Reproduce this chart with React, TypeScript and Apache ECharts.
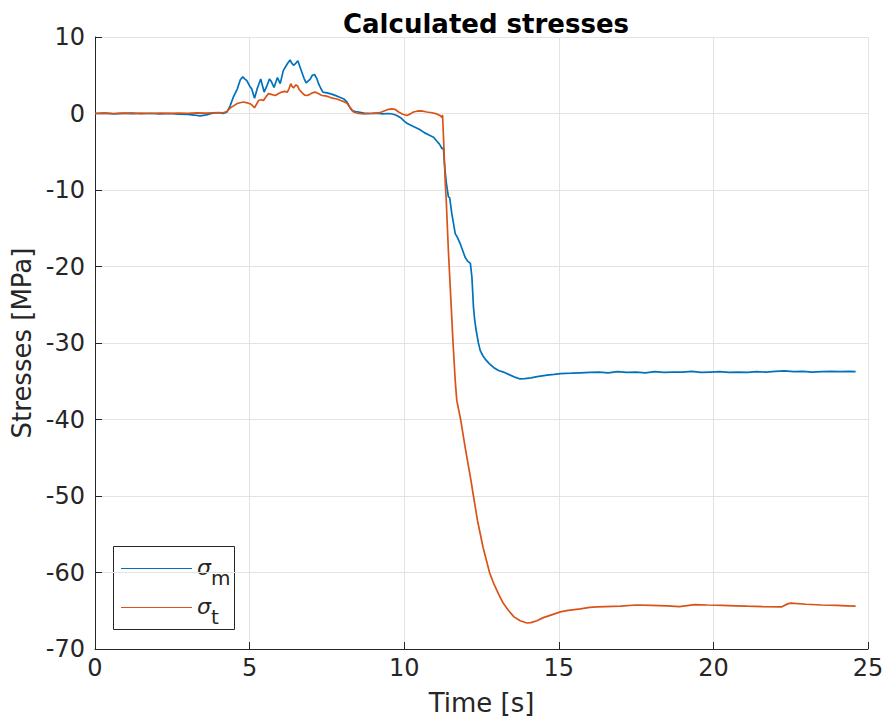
import React, { useEffect, useRef } from "react";
import * as echarts from "echarts";

const titleText = "Calculated stresses";
const xName = "Time [s]";
const yName = "Stresses [MPa]";
const seriesNames = ["σm", "σt"];
const legendSubs = ["m", "t"];
const seriesColors = ["#0072BD", "#D95319"];

// σm : [time (s), stress (MPa)]
const sigmaM: [number, number][] = [
  [0, 0], [0.3, 0.05], [0.6, -0.05], [0.9, 0.02], [1.2, 0.05], [1.5, -0.03], [1.8, 0.03],
  [2.1, -0.05], [2.4, 0.0], [2.7, -0.08], [3.0, -0.12], [3.2, -0.2], [3.4, -0.3], [3.6, -0.18],
  [3.8, 0.05], [4.0, 0.1], [4.15, 0.0], [4.27, 0.2], [4.37, 1.0], [4.47, 2.1], [4.6, 3.2],
  [4.7, 4.4], [4.78, 4.8], [4.85, 4.5], [4.91, 4.3], [5.0, 3.6], [5.07, 3.2], [5.16, 2.0],
  [5.25, 3.3], [5.36, 4.5], [5.42, 3.6], [5.47, 2.8], [5.56, 3.6], [5.64, 4.5], [5.7, 4.2],
  [5.79, 3.4], [5.9, 4.7], [5.99, 3.9], [6.09, 5.6], [6.22, 6.5], [6.31, 7.0], [6.36, 6.6],
  [6.42, 6.3], [6.5, 6.6], [6.56, 6.9], [6.62, 6.2], [6.69, 5.4], [6.76, 4.6], [6.83, 4.0],
  [6.96, 4.5], [7.03, 5.0], [7.1, 5.1], [7.17, 4.6], [7.23, 3.9], [7.3, 3.3], [7.37, 2.8],
  [7.5, 2.7], [7.6, 2.6], [7.75, 2.4], [7.93, 2.1], [8.05, 1.9], [8.15, 1.5], [8.23, 0.9],
  [8.31, 0.4], [8.42, 0.25], [8.52, 0.2], [8.7, 0.05], [8.9, 0.0], [9.1, 0.05], [9.3, -0.05],
  [9.5, 0.0], [9.65, -0.1], [9.76, -0.26], [9.9, -0.6], [10.0, -1.0], [10.1, -1.3],
  [10.25, -1.6], [10.4, -1.9], [10.5, -2.1], [10.65, -2.5], [10.8, -2.8], [10.95, -3.1],
  [11.05, -3.6], [11.12, -3.9], [11.17, -4.2], [11.22, -4.6], [11.27, -4.5], [11.3, -6.5],
  [11.36, -9.0], [11.43, -10.9], [11.47, -11.0], [11.54, -13.1], [11.6, -14.5], [11.65, -15.7],
  [11.72, -16.2], [11.81, -17.0], [11.9, -18.0], [11.97, -18.8], [12.05, -19.3], [12.14, -19.6],
  [12.19, -21.4], [12.24, -25.3], [12.28, -27.0], [12.33, -28.4], [12.4, -30.0], [12.46, -31.0],
  [12.55, -31.7], [12.62, -32.1], [12.75, -32.7], [12.89, -33.2], [13.05, -33.6], [13.21, -33.8],
  [13.43, -34.2], [13.6, -34.5], [13.75, -34.7], [13.9, -34.65], [14.1, -34.55], [14.3, -34.4],
  [14.62, -34.2], [14.85, -34.1], [15.05, -34.0], [15.4, -33.95], [15.7, -33.9], [16.0, -33.85],
  [16.3, -33.8], [16.6, -33.9], [16.9, -33.75], [17.2, -33.85], [17.5, -33.8], [17.8, -33.9],
  [18.1, -33.75], [18.4, -33.85], [18.7, -33.8], [19.0, -33.8], [19.3, -33.7], [19.6, -33.85],
  [19.9, -33.8], [20.2, -33.75], [20.5, -33.85], [20.8, -33.8], [21.1, -33.85], [21.4, -33.75],
  [21.7, -33.8], [22.0, -33.7], [22.3, -33.65], [22.6, -33.75], [22.9, -33.7], [23.2, -33.8],
  [23.5, -33.75], [23.8, -33.7], [24.1, -33.75], [24.4, -33.7], [24.6, -33.75],
];

// σt : [time (s), stress (MPa)]
const sigmaT: [number, number][] = [
  [0, 0], [0.3, 0.05], [0.6, 0.0], [0.9, 0.05], [1.2, -0.02], [1.5, 0.04], [1.8, 0.0],
  [2.1, 0.05], [2.4, 0.02], [2.7, 0.06], [3.0, 0.03], [3.3, 0.08], [3.6, 0.05], [3.8, 0.1],
  [4.0, 0.12], [4.15, 0.1], [4.26, 0.26], [4.37, 0.7], [4.48, 1.0], [4.6, 1.3], [4.69, 1.4],
  [4.8, 1.5], [4.96, 1.35], [5.05, 1.2], [5.16, 0.75], [5.22, 1.2], [5.29, 1.7], [5.38, 1.8],
  [5.45, 1.7], [5.53, 2.2], [5.61, 2.6], [5.7, 2.5], [5.83, 2.35], [5.94, 2.6], [6.04, 2.8],
  [6.14, 2.9], [6.22, 2.8], [6.28, 3.3], [6.33, 3.9], [6.38, 3.5], [6.42, 3.35], [6.5, 3.75],
  [6.55, 3.6], [6.61, 3.1], [6.7, 2.7], [6.78, 2.4], [6.85, 2.35], [6.95, 2.5], [7.03, 2.7],
  [7.12, 2.8], [7.22, 2.6], [7.34, 2.35], [7.45, 2.3], [7.55, 2.2], [7.68, 2.0], [7.82, 1.9],
  [7.95, 1.7], [8.05, 1.55], [8.15, 1.35], [8.25, 0.8], [8.36, 0.2], [8.52, 0.0], [8.7, -0.05],
  [8.9, 0.0], [9.1, 0.05], [9.25, 0.15], [9.33, 0.3], [9.45, 0.5], [9.6, 0.6], [9.7, 0.55],
  [9.82, 0.2], [9.95, -0.1], [10.09, -0.26], [10.2, -0.05], [10.3, 0.2], [10.41, 0.3],
  [10.55, 0.35], [10.73, 0.2], [10.9, 0.1], [11.05, -0.05], [11.17, -0.3], [11.22, -0.5],
  [11.24, -0.2], [11.27, -3.0], [11.33, -9.2], [11.36, -11.4], [11.43, -18.0], [11.51, -24.4],
  [11.58, -30.0], [11.65, -34.9], [11.7, -37.5], [11.83, -40.1], [11.97, -43.6], [12.16, -48.0],
  [12.24, -50.0], [12.37, -53.2], [12.55, -56.7], [12.76, -60.0], [12.9, -61.5], [13.05, -62.8],
  [13.2, -64.0], [13.38, -65.0], [13.55, -65.8], [13.75, -66.3], [13.97, -66.6], [14.1, -66.55],
  [14.29, -66.3], [14.5, -65.9], [14.72, -65.6], [15.05, -65.15], [15.3, -64.95], [15.7, -64.75],
  [16.0, -64.55], [16.24, -64.5], [16.5, -64.45], [17.0, -64.4], [17.5, -64.25], [18.0, -64.3],
  [18.5, -64.35], [18.9, -64.45], [19.4, -64.2], [19.8, -64.25], [20.3, -64.3], [20.7, -64.35],
  [21.1, -64.4], [21.6, -64.45], [22.2, -64.5], [22.4, -64.1], [22.5, -64.0], [23.0, -64.15],
  [23.5, -64.25], [24.0, -64.3], [24.3, -64.35], [24.6, -64.4],
];

const xMin = 0, xMax = 25, xStep = 5;
const yMin = -70, yMax = 10, yStep = 10;

const FONT = "DejaVu Sans";
const INK = "#262626";
const GRID = "#e3e3e3";

export default function App() {
  const ref = useRef<HTMLDivElement>(null);
  useEffect(() => {
    document.body.style.margin = "0";
    if (!ref.current) return;
    const chart = echarts.init(ref.current, null, { renderer: "svg" });

    // legend drawn as a boxed key (MATLAB style), sigma with subscript
    const legendBox = { x: 113, y: 546, w: 121, h: 83 };
    const rowY = [568, 607];
    const legendChildren: any[] = [
      {
        type: "rect",
        shape: { x: legendBox.x + 0.5, y: legendBox.y + 0.5, width: legendBox.w, height: legendBox.h },
        style: { fill: "#fff", stroke: INK, lineWidth: 1 },
      },
    ];
    seriesNames.forEach((_, i) => {
      legendChildren.push({
        type: "line",
        shape: { x1: 121, y1: rowY[i] + 0.5, x2: 192, y2: rowY[i] + 0.5 },
        style: { stroke: seriesColors[i], lineWidth: 1.2 },
      });
      legendChildren.push({
        type: "text",
        x: 197,
        y: rowY[i] - 1,
        style: {
          text: "σ",
          font: `italic 22px '${FONT}'`,
          fill: INK,
          verticalAlign: "middle",
          align: "left",
        },
      });
      legendChildren.push({
        type: "text",
        x: 211,
        y: rowY[i] + 10,
        style: {
          text: legendSubs[i],
          font: `20px '${FONT}'`,
          fill: INK,
          verticalAlign: "middle",
          align: "left",
        },
      });
    });

    chart.setOption({
      animation: false,
      backgroundColor: "#fff",
      title: {
        text: titleText,
        left: 481,
        top: 6,
        textAlign: "center",
        textStyle: { fontFamily: FONT, fontSize: 26, fontWeight: "bold", color: "#000" },
      },
      grid: { left: 95, right: 18, top: 37, bottom: 73, containLabel: false, outerBoundsMode: "none" },
      xAxis: {
        type: "value",
        min: xMin,
        max: xMax,
        interval: xStep,
        name: xName,
        nameLocation: "middle",
        nameGap: 41,
        nameTextStyle: { fontFamily: FONT, fontSize: 26, color: INK },
        axisLine: { onZero: false, lineStyle: { color: INK, width: 1 } },
        axisTick: { inside: true, length: 7, lineStyle: { color: INK } },
        axisLabel: { fontFamily: FONT, fontSize: 24, color: INK, margin: 7 },
        splitLine: { show: true, lineStyle: { color: GRID, width: 1 } },
      },
      yAxis: {
        type: "value",
        min: yMin,
        max: yMax,
        interval: yStep,
        name: yName,
        nameLocation: "middle",
        nameGap: 57,
        nameTextStyle: { fontFamily: FONT, fontSize: 26, color: INK },
        axisLine: { show: true, onZero: false, lineStyle: { color: INK, width: 1 } },
        axisTick: { show: true, inside: true, length: 7, lineStyle: { color: INK } },
        axisLabel: { fontFamily: FONT, fontSize: 24, color: INK, margin: 10 },
        splitLine: { show: true, lineStyle: { color: GRID, width: 1 } },
      },
      graphic: [{ type: "group", z: 100, children: legendChildren }],
      series: [
        {
          name: seriesNames[0],
          type: "line",
          data: sigmaM,
          symbol: "none",
          lineStyle: { color: seriesColors[0], width: 1.7 },
          itemStyle: { color: seriesColors[0] },
          z: 3,
        },
        {
          name: seriesNames[1],
          type: "line",
          data: sigmaT,
          symbol: "none",
          lineStyle: { color: seriesColors[1], width: 1.7 },
          itemStyle: { color: seriesColors[1] },
          z: 4,
        },
      ],
    });
    return () => chart.dispose();
  }, []);
  return <div ref={ref} style={{ width: 886, height: 722 }} />;
}
